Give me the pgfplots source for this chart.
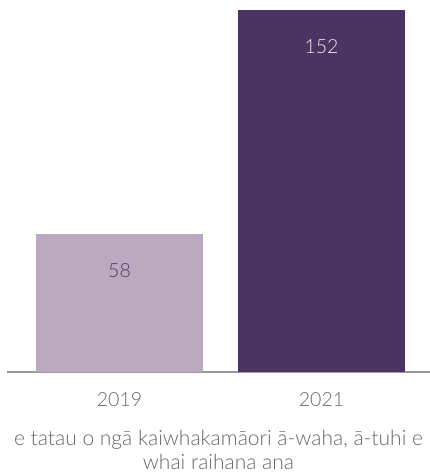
\documentclass[border=0pt]{standalone}
\usepackage{fontspec}
\setmainfont{Lato Light}
\usepackage{pgfplots}
\pgfplotsset{compat=1.18}
\definecolor{barA}{HTML}{BBAABF}
\definecolor{barB}{HTML}{4B3362}
\definecolor{lblA}{HTML}{4E3A66}
\definecolor{txtgray}{HTML}{666666}
\definecolor{axgray}{HTML}{999999}
\begin{document}
\begin{tikzpicture}[x=1pt,y=1pt]
\path[use as bounding box] (0,0) rectangle (430,473);
\begin{axis}[
  at={(7pt,101pt)}, anchor=south west,
  width=423pt, height=362pt, scale only axis,
  xmin=-0.557, xmax=1.537, ymin=0, ymax=152,
  axis y line=none,
  axis x line*=bottom,
  x axis line style={draw=axgray, line width=1.2pt, -},
  xtick={0,1}, xticklabels={2019,2021},
  major tick length=0pt,
  xticklabel style={font=\fontsize{19.5}{22}\selectfont, text=txtgray, yshift=-17pt},
  xlabel={e tatau o ngā kaiwhakamāori ā-waha, ā-tuhi e\\[2.5pt]whai raihana ana},
  xlabel style={font=\fontsize{21}{21}\selectfont, text=txtgray, align=center, yshift=-17pt},
  ybar, bar width=167pt, bar shift=0pt,
  nodes near coords,
  nodes near coords style={font=\fontsize{19.5}{22}\selectfont, anchor=center, yshift=-37pt},
  /pgf/number format/assume math mode=true,
  clip=false,
]
\addplot[fill=barA, draw=none, nodes near coords style={text=lblA}] coordinates {(0,58)};
\addplot[fill=barB, draw=none, nodes near coords style={text=white!90!barB}] coordinates {(1,152)};
\end{axis}
\end{tikzpicture}
\end{document}
